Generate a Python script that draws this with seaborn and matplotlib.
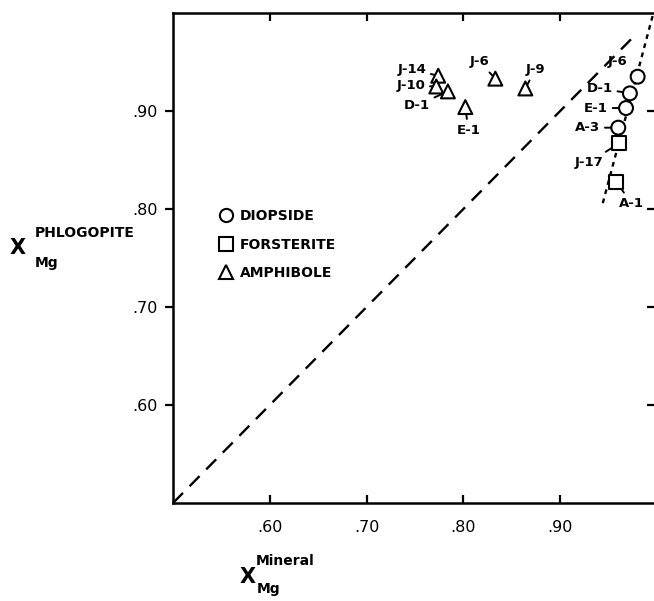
import matplotlib
matplotlib.use("Agg")
import matplotlib.pyplot as plt
import seaborn as sns
import pandas as pd
from matplotlib.lines import Line2D

# ---------------- data ----------------
samples = ["J-14", "J-10", "D-1", "E-1", "J-6", "J-9",
           "J-6", "D-1", "E-1", "A-3",
           "J-17", "A-1"]
minerals = ["AMPHIBOLE"] * 6 + ["DIOPSIDE"] * 4 + ["FORSTERITE"] * 2
x_mineral = [0.774, 0.772, 0.784, 0.802, 0.833, 0.864,
             0.980, 0.972, 0.968, 0.960,
             0.961, 0.958]
x_phlogopite = [0.936, 0.925, 0.920, 0.904, 0.933, 0.923,
                0.935, 0.918, 0.903, 0.883,
                0.867, 0.828]
one_to_one = [0.50, 0.975]
trend_x = [0.944, 0.996]
trend_y = [0.806, 0.999]
tick_values = [0.60, 0.70, 0.80, 0.90]
tick_labels = [".60", ".70", ".80", ".90"]

# label layout (pixel offsets from marker: dx right, dy up), alignment
label_offsets = [(-12, 6, "right"), (-11, 1, "right"), (-18, -14, "right"),
                 (3, -23, "center"), (-16, 17, "center"), (10, 19, "center"),
                 (-10, 15, "right"), (-17, 5, "right"), (-18, 0, "right"),
                 (-18, 0, "right"), (-16, -19, "right"), (15, -22, "center")]

df = pd.DataFrame({"sample": samples, "mineral": minerals,
                   "xm": x_mineral, "xp": x_phlogopite})

sns.set_style("ticks", {"axes.edgecolor": "black", "text.color": "black",
                        "xtick.color": "black", "ytick.color": "black",
                        "axes.labelcolor": "black"})
plt.rcParams["font.family"] = ["DejaVu Sans"]

W, H = 654, 601
fig = plt.figure(figsize=(W / 100, H / 100), dpi=100)
ax = fig.add_axes([173 / W, 98 / H, (657 - 173) / W, (503 - 13) / H])

marker_map = {"DIOPSIDE": "o", "FORSTERITE": "s", "AMPHIBOLE": "^"}

# reference lines
sns.lineplot(x=one_to_one, y=one_to_one, ax=ax, color="black", lw=1.7,
             linestyle=(0, (6.0, 4.0)))
sns.lineplot(x=trend_x, y=trend_y, ax=ax, color="black", lw=1.7,
             linestyle=(0, (2.0, 2.0)))

sns.scatterplot(data=df, x="xm", y="xp", style="mineral", markers=marker_map,
                s=100, color="white", edgecolor="black", linewidth=1.5,
                legend=False, ax=ax, zorder=5)

px2pt = 0.72
for i, row in df.iterrows():
    dx, dy, ha = label_offsets[i]
    ax.annotate(row["sample"], xy=(row["xm"], row["xp"]),
                xytext=(dx * px2pt, dy * px2pt), textcoords="offset points",
                ha=ha, va="center", fontsize=9.5, fontweight="bold",
                color="black",
                arrowprops=dict(arrowstyle="-", color="black", lw=1.4,
                                shrinkA=1.0, shrinkB=2.0),
                zorder=4)

ax.set_xlim(0.5, 1.0)
ax.set_ylim(0.5, 1.0)
ax.set_xticks(tick_values)
ax.set_xticklabels(tick_labels)
ax.set_yticks(tick_values)
ax.set_yticklabels(tick_labels)
ax.set_xlabel("")
ax.set_ylabel("")
for s in ax.spines.values():
    s.set_linewidth(1.8)
    s.set_visible(True)
    s.set_color("black")
ax.tick_params(axis="x", direction="in", length=6, width=1.6, top=True,
               labelsize=11.5, pad=12, colors="black")
ax.tick_params(axis="y", direction="out", length=6, width=1.6, right=True,
               labelsize=11.5, pad=5, colors="black")
for t in ax.yaxis.get_ticklines()[1::2]:
    t.set_marker(matplotlib.markers.TICKLEFT)
    t.set_markersize(7)

# legend
handles = [Line2D([], [], marker=marker_map[m], linestyle="none",
                  markerfacecolor="white", markeredgecolor="black",
                  markeredgewidth=1.5, markersize=9.5, label=m)
           for m in ["DIOPSIDE", "FORSTERITE", "AMPHIBOLE"]]
leg = ax.legend(handles=handles, frameon=False, loc="upper left",
                bbox_to_anchor=(212 / W, 1 - 202 / H),
                bbox_transform=fig.transFigure, borderpad=0,
                handlelength=1.0, handletextpad=0.5, labelspacing=1.05,
                prop={"size": 10, "weight": "bold"})
for txt in leg.get_texts():
    txt.set_color("black")

# axis titles
fig.text(18 / W, 1 - 248 / H, "X", fontsize=15, fontweight="bold",
         ha="center", va="center", color="black")
fig.text(35 / W, 1 - 233 / H, "PHLOGOPITE", fontsize=10, fontweight="bold",
         ha="left", va="center", color="black")
fig.text(35 / W, 1 - 263 / H, "Mg", fontsize=10, fontweight="bold",
         ha="left", va="center", color="black")
fig.text(248 / W, 1 - 577 / H, "X", fontsize=15, fontweight="bold",
         ha="center", va="center", color="black")
fig.text(256 / W, 1 - 561 / H, "Mineral", fontsize=10, fontweight="bold",
         ha="left", va="center", color="black")
fig.text(257 / W, 1 - 589 / H, "Mg", fontsize=10, fontweight="bold",
         ha="left", va="center", color="black")

fig.savefig("out.png", dpi=100)
